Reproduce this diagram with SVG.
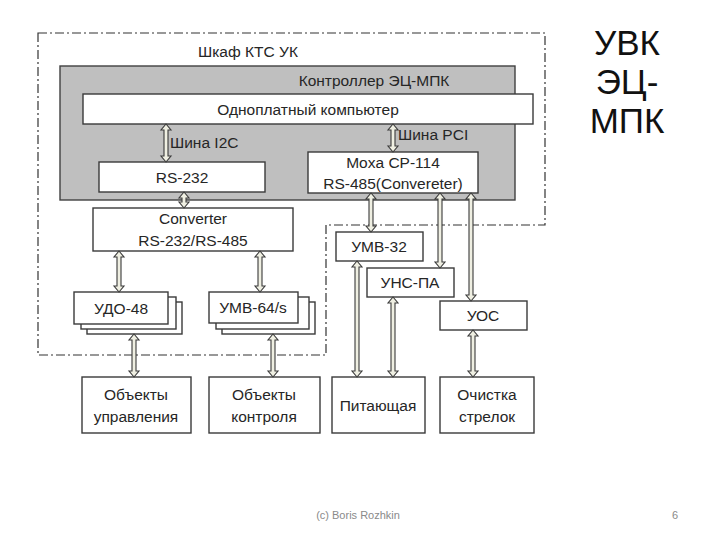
<svg xmlns="http://www.w3.org/2000/svg" width="720" height="540" viewBox="0 0 720 540">
<style>
.bx{fill:#fff;stroke:#3a3a3a;stroke-width:1.4}
.t{font-family:"Liberation Sans",Arial,sans-serif;font-size:15.5px;fill:#262626;text-anchor:middle}
.l{font-family:"Liberation Sans",Arial,sans-serif;font-size:15.5px;fill:#262626}
.arr{fill:#efefe2;stroke:#3a3a3a;stroke-width:1.1}
.dd{fill:none;stroke:#333;stroke-width:1.2;stroke-dasharray:9,3,2,3}
.ti{font-family:"Liberation Sans",Arial,sans-serif;font-size:35px;fill:#111;text-anchor:middle}
.ft{font-family:"Liberation Sans",Arial,sans-serif;font-size:11px;fill:#8a8a8a;text-anchor:middle}
</style>
<rect width="720" height="540" fill="#fff"/>
<g id="title"><text class="ti" x="627" y="55">УВК</text>
<text class="ti" x="627" y="94">ЭЦ-</text>
<text class="ti" x="627" y="133">МПК</text></g>
<g id="cabinet"><path class="dd" d="M38,33 H545 V225 H326 V355 H38 Z"/>
<text class="t" x="248" y="57">Шкаф КТС УК</text></g>
<g id="controller"><rect x="60" y="66" width="455" height="134" fill="#bfbfbf" stroke="#404040" stroke-width="1.4"/>
<text class="t" x="374" y="86">Контроллер ЭЦ-МПК</text></g>
<g id="sbc"><rect class="bx" x="83" y="94" width="450" height="30"/><text class="t" x="308" y="115">Одноплатный компьютер</text></g>
<g id="rs232"><rect class="bx" x="99" y="162" width="166" height="30"/><text class="t" x="182" y="183">RS-232</text></g>
<g id="moxa"><rect class="bx" x="308" y="152" width="170" height="41"/><text class="t" x="393" y="168">Moxa CP-114</text><text class="t" x="393" y="189">RS-485(Convereter)</text></g>
<g id="converter"><rect class="bx" x="93" y="208" width="200" height="43"/><text class="t" x="193" y="224">Converter</text><text class="t" x="193" y="246">RS-232/RS-485</text></g>
<g id="udo48"><rect class="bx" x="87" y="302" width="95" height="32"/><rect class="bx" x="81" y="297" width="95" height="32"/><rect class="bx" x="74" y="292" width="94" height="32"/><text class="t" x="121" y="314">УДО-48</text></g>
<g id="umv64"><rect class="bx" x="222" y="302" width="93" height="32"/><rect class="bx" x="216" y="297" width="93" height="32"/><rect class="bx" x="209" y="292" width="89" height="31"/><text class="t" x="253" y="313">УМВ-64/s</text></g>
<g id="umv32"><rect class="bx" x="336" y="232" width="87" height="29"/><text class="t" x="379" y="252">УМВ-32</text></g>
<g id="uns"><rect class="bx" x="367" y="268" width="87" height="29"/><text class="t" x="410" y="288">УНС-ПА</text></g>
<g id="uos"><rect class="bx" x="440" y="301" width="87" height="29"/><text class="t" x="483" y="321">УОС</text></g>
<g id="obj_upr"><rect class="bx" x="82" y="377" width="109" height="56"/><text class="t" x="136" y="400">Объекты</text><text class="t" x="136" y="422">управления</text></g>
<g id="obj_ctl"><rect class="bx" x="209" y="377" width="111" height="56"/><text class="t" x="264" y="400">Объекты</text><text class="t" x="264" y="422">контроля</text></g>
<g id="pit"><rect class="bx" x="332" y="377" width="93" height="56"/><text class="t" x="378" y="411">Питающая</text></g>
<g id="ochist"><rect class="bx" x="440" y="377" width="94" height="56"/><text class="t" x="487" y="400">Очистка</text><text class="t" x="487" y="422">стрелок</text></g>
<g id="connectors">
<path class="arr" d="M166,124 l5,6 h-3 V156 h3 l-5,6 l-5,-6 h3 V130 h-3 Z"/>
<path class="arr" d="M393,124 l5,6 h-3 V146 h3 l-5,6 l-5,-6 h3 V130 h-3 Z"/>
<path class="arr" d="M184,192 l5,6 h-3 V202 h3 l-5,6 l-5,-6 h3 V198 h-3 Z"/>
<path class="arr" d="M119,251 l5,6 h-3 V286 h3 l-5,6 l-5,-6 h3 V257 h-3 Z"/>
<path class="arr" d="M260,251 l5,6 h-3 V286 h3 l-5,6 l-5,-6 h3 V257 h-3 Z"/>
<path class="arr" d="M134,334 l5,6 h-3 V371 h3 l-5,6 l-5,-6 h3 V340 h-3 Z"/>
<path class="arr" d="M273,334 l5,6 h-3 V371 h3 l-5,6 l-5,-6 h3 V340 h-3 Z"/>
<path class="arr" d="M371,193 l5,6 h-3 V226 h3 l-5,6 l-5,-6 h3 V199 h-3 Z"/>
<path class="arr" d="M440,193 l5,6 h-3 V262 h3 l-5,6 l-5,-6 h3 V199 h-3 Z"/>
<path class="arr" d="M471,193 l5,6 h-3 V295 h3 l-5,6 l-5,-6 h3 V199 h-3 Z"/>
<path class="arr" d="M357,261 l5,6 h-3 V371 h3 l-5,6 l-5,-6 h3 V267 h-3 Z"/>
<path class="arr" d="M393,297 l5,6 h-3 V371 h3 l-5,6 l-5,-6 h3 V303 h-3 Z"/>
<path class="arr" d="M473,330 l5,6 h-3 V371 h3 l-5,6 l-5,-6 h3 V336 h-3 Z"/>
<text class="l" x="170" y="148">Шина I2C</text>
<text class="l" x="398" y="140">Шина PCI</text>
</g>
<g id="footer"><text class="ft" x="358" y="519">(c) Boris Rozhkin</text>
<text class="ft" x="675" y="519">6</text></g>
</svg>
